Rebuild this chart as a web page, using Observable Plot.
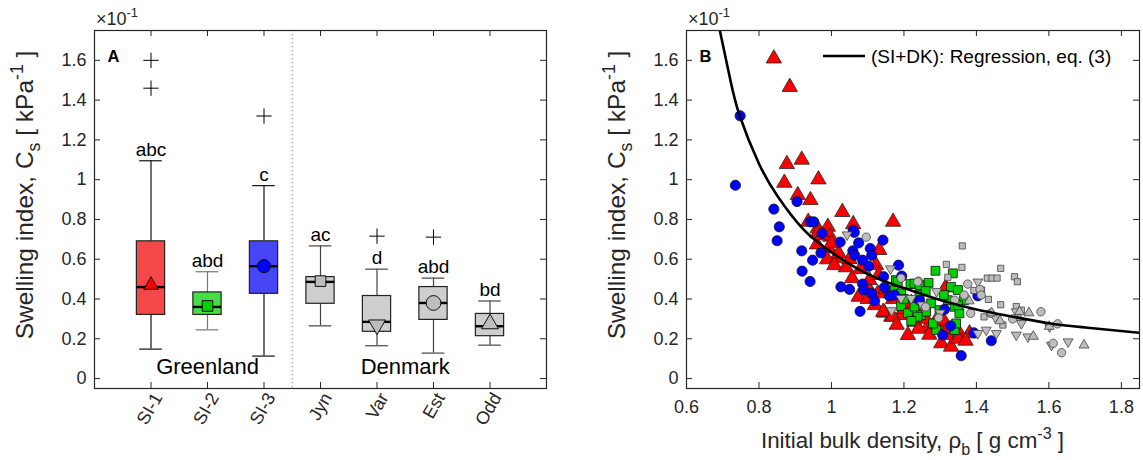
<!DOCTYPE html>
<html><head><meta charset="utf-8">
<script src="https://cdn.jsdelivr.net/npm/d3@7"></script>
<script src="https://cdn.jsdelivr.net/npm/@observablehq/plot@0.6"></script>
<style>
body{margin:0;background:#fff;}
#wrap{position:relative;width:1143px;height:460px;overflow:hidden;background:#fff;}
#wrap > div{position:absolute;top:0;}
</style></head><body>
<div id="wrap"><div id="left" style="left:0px"></div><div id="right" style="left:560px"></div></div>
<script>
// ---------------- DATA ----------------
const groups = ["SI-1","SI-2","SI-3","Jyn","Var","Est","Odd"];
const groupRegion = ["Greenland","Greenland","Greenland","Denmark","Denmark","Denmark","Denmark"];
const boxQ1      = [0.320,0.320,0.426,0.376,0.235,0.295,0.213];
const boxMedian  = [0.460,0.360,0.565,0.486,0.285,0.380,0.263];
const boxQ3      = [0.690,0.433,0.690,0.510,0.415,0.460,0.325];
const whiskerLow = [0.148,0.245,0.113,0.265,0.165,0.128,0.168];
const whiskerHigh= [1.095,0.537,0.970,0.667,0.550,0.505,0.390];
const meanValue  = [0.470,0.365,0.565,0.490,0.270,0.380,0.275];
const sigLetters = ["abc","abd","c","ac","d","abd","bd"];
const outlierGroup = ["SI-1","SI-1","SI-3","Var","Est"];
const outlierValue = [1.600,1.460,1.320,0.716,0.711];
const yTickValues = [0,0.2,0.4,0.6,0.8,1,1.2,1.4,1.6];
const xTickValuesB = [0.6,0.8,1,1.2,1.4,1.6,1.8];

// scatter: [initial bulk density, swelling index]
const si1Points = [[0.841,1.609],[0.885,1.466],[0.877,1.078],[0.918,1.100],[0.870,0.984],[0.964,1.001],[0.907,0.922],[0.942,0.897],[1.030,0.837],[1.060,0.776],[1.170,0.788],[0.962,0.755],[0.990,0.763],[0.936,0.788],[0.962,0.730],[0.997,0.713],[0.960,0.674],[0.993,0.654],[0.988,0.599],[1.017,0.604],[1.008,0.570],[1.040,0.559],[1.132,0.646],[1.123,0.570],[1.057,0.504],[1.100,0.461],[1.075,0.411],[1.120,0.369],[1.146,0.331],[1.165,0.311],[1.211,0.219],[1.229,0.285],[1.105,0.495],[1.128,0.428],[1.143,0.336],[1.266,0.260],[1.315,0.458],[1.192,0.319],[1.303,0.177],[1.330,0.160],[1.330,0.219],[1.353,0.227],[1.381,0.227],[1.284,0.277],[1.298,0.250],[1.169,0.311],[1.020,0.630],[1.050,0.600],[1.080,0.550],[1.150,0.450],[1.170,0.400],[1.200,0.350],[1.220,0.380],[1.250,0.330],[1.180,0.270],[1.240,0.250],[1.270,0.220],[1.320,0.250],[1.350,0.200],[1.100,0.400],[1.000,0.680],[0.975,0.720],[1.130,0.520],[1.260,0.300],[1.310,0.290],[1.370,0.190]];
const si2Points = [[1.178,0.495],[1.218,0.475],[1.229,0.478],[1.268,0.481],[1.287,0.542],[1.335,0.529],[1.192,0.364],[1.211,0.328],[1.229,0.361],[1.247,0.319],[1.261,0.336],[1.275,0.378],[1.289,0.244],[1.321,0.394],[1.340,0.361],[1.353,0.328],[1.366,0.394],[1.330,0.461],[1.349,0.445],[1.174,0.445],[1.192,0.428],[1.243,0.420],[1.280,0.277],[1.340,0.244],[1.183,0.486],[1.243,0.470],[1.298,0.344],[1.238,0.311],[1.344,0.277],[1.349,0.369],[1.200,0.400],[1.260,0.440],[1.310,0.420],[1.220,0.290]];
const si3Points = [[0.748,1.321],[0.735,0.972],[0.841,0.852],[0.905,0.890],[0.856,0.763],[0.942,0.788],[0.951,0.788],[1.060,0.746],[0.850,0.693],[0.918,0.642],[0.948,0.595],[0.919,0.540],[0.941,0.488],[0.974,0.730],[1.024,0.686],[1.063,0.735],[1.075,0.682],[1.059,0.642],[1.064,0.620],[1.086,0.595],[1.103,0.565],[1.107,0.654],[1.111,0.619],[1.142,0.696],[0.971,0.632],[1.026,0.461],[1.050,0.448],[1.086,0.475],[1.089,0.445],[1.111,0.428],[1.119,0.391],[1.146,0.458],[1.160,0.415],[1.144,0.512],[1.185,0.570],[1.194,0.515],[1.079,0.338],[1.174,0.420],[1.243,0.394],[1.312,0.348],[1.329,0.265],[1.307,0.219],[1.393,0.230],[1.441,0.190],[1.358,0.115],[1.404,0.416]];
const jynPoints = [[1.361,0.667],[1.317,0.574],[1.360,0.559],[1.321,0.509],[1.467,0.554],[1.430,0.505],[1.443,0.505],[1.457,0.505],[1.505,0.512],[1.513,0.487],[1.393,0.443],[1.414,0.445],[1.433,0.398],[1.467,0.371],[1.510,0.362],[1.421,0.310],[1.473,0.269],[1.515,0.308],[1.524,0.344]];
const varPoints = [[1.043,0.723],[1.163,0.552],[1.166,0.342],[1.404,0.486],[1.290,0.438],[1.192,0.403],[1.220,0.403],[1.510,0.336],[1.524,0.277],[1.404,0.227],[1.427,0.244],[1.455,0.227],[1.510,0.219],[1.542,0.210],[1.602,0.260],[1.607,0.168],[1.653,0.185],[1.452,0.308],[1.250,0.370],[1.300,0.330]];
const estPoints = [[1.096,0.711],[1.192,0.505],[1.240,0.490],[1.376,0.475],[1.410,0.448],[1.413,0.420],[1.366,0.420],[1.340,0.394],[1.296,0.305],[1.384,0.328],[1.439,0.328],[1.578,0.336],[1.624,0.275],[1.612,0.177],[1.635,0.130],[1.238,0.486],[1.260,0.360],[1.500,0.300]];
const oddPoints = [[1.519,0.336],[1.545,0.330],[1.601,0.262],[1.697,0.168],[1.557,0.212],[1.442,0.330],[1.465,0.290],[1.380,0.390]];
const regressionCurve = [[0.692,1.75],[0.72,1.51],[0.747,1.32],[0.80,1.08],[0.85,0.92],[0.92,0.755],[1.00,0.635],[1.10,0.525],[1.20,0.455],[1.30,0.395],[1.40,0.347],[1.50,0.311],[1.60,0.278],[1.70,0.257],[1.85,0.23]];
const legendLabel = "(SI+DK): Regression, eq. (3)";

// ---------------- STYLE ----------------
const font = "'Liberation Sans', Arial, Helvetica, sans-serif";
const ink = "#262626";
const boxFill = {"SI-1":"#f44848","SI-2":"#46e046","SI-3":"#4646f4","Jyn":"#cecece","Var":"#cecece","Est":"#cecece","Odd":"#cecece"};
const whiskerStroke = {"SI-1":"#111","SI-2":"#777","SI-3":"#111","Jyn":"#444","Var":"#444","Est":"#444","Odd":"#444"};
const markFill = {"SI-1":"#ff0000","SI-2":"#00d000","SI-3":"#0000ff","Jyn":"#bdbdbd","Var":"#bdbdbd","Est":"#bdbdbd","Odd":"#bdbdbd"};
const meanSymbol = {"SI-1":["triangle",5.4,0],"SI-2":["square",6.0,0],"SI-3":["circle",6.6,0],"Jyn":["square",6.0,0],"Var":["triangle",6.3,180],"Est":["circle",7.4,0],"Odd":["triangle",6.3,0]};
const yDomain = [-0.05, 1.75];
const fmt = d => String(+d.toFixed(2));

function richText(parent, parts, {x, y, size, anchor = "start", rotate = 0, weight = "normal"}) {
  const t = parent.append("text")
    .attr("transform", `translate(${x},${y}) rotate(${rotate})`)
    .attr("text-anchor", anchor).attr("font-size", size).attr("font-family", font)
    .attr("fill", ink).attr("font-weight", weight);
  let shift = 0;
  for (const p of parts) {
    const sp = t.append("tspan").text(p.t);
    const target = p.sub ? size * 0.3 : p.sup ? -size * 0.42 : 0;
    if (target - shift !== 0) sp.attr("dy", target - shift);
    shift = target;
    if (p.sub || p.sup) sp.attr("font-size", size * 0.72);
  }
  return t;
}

// ---------------- PANEL A ----------------
const L = {width: 560, height: 460, ml: 94, mr: 14, mt: 30, mb: 72};
const LfW = L.width - L.ml - L.mr, LfH = L.height - L.mt - L.mb;
const rows = groups.map((g, i) => ({g, pos: i + 1, q1: boxQ1[i], med: boxMedian[i], q3: boxQ3[i], lo: whiskerLow[i], hi: whiskerHigh[i], mean: meanValue[i], letters: sigLetters[i], region: groupRegion[i]}));
const posOf = g => groups.indexOf(g) + 1;
const outliers = outlierGroup.map((g, i) => ({pos: posOf(g), v: outlierValue[i]}));
const regionRows = Array.from(new Set(groupRegion), r => ({r, pos: d3.mean(rows.filter(d => d.region === r), d => d.pos)}));
const dividerPos = d3.max(rows.filter(d => d.region === groupRegion[0]), d => d.pos) + 0.5;
const catTicks = rows.map(d => d.pos);

const meanMarks = rows.map(d => {
  const [sym, r, rot] = meanSymbol[d.g];
  return Plot.dot([d], {x: "pos", y: "mean", symbol: sym, r, rotate: rot, fill: markFill[d.g], stroke: "#111", strokeWidth: 1});
});

const left = Plot.plot({
  width: L.width, height: L.height,
  marginLeft: L.ml, marginRight: L.mr, marginTop: L.mt, marginBottom: L.mb,
  style: {fontFamily: font, color: ink, background: "white", overflow: "visible"},
  x: {domain: [0, groups.length + 1], axis: null},
  y: {domain: yDomain, axis: null},
  marks: [
    Plot.ruleX([dividerPos], {stroke: "#777", strokeDasharray: "1.2,2.8", strokeWidth: 1}),
    // whiskers
    Plot.ruleX(rows, {x: "pos", y1: "q3", y2: "hi", stroke: d => whiskerStroke[d.g], strokeWidth: 1.2}),
    Plot.ruleX(rows, {x: "pos", y1: "lo", y2: "q1", stroke: d => whiskerStroke[d.g], strokeWidth: 1.2}),
    Plot.ruleY(rows, {y: "hi", x1: d => d.pos - 0.2, x2: d => d.pos + 0.2, stroke: d => whiskerStroke[d.g], strokeWidth: 1.2}),
    Plot.ruleY(rows, {y: "lo", x1: d => d.pos - 0.2, x2: d => d.pos + 0.2, stroke: d => whiskerStroke[d.g], strokeWidth: 1.2}),
    // boxes
    Plot.rect(rows, {x1: d => d.pos - 0.25, x2: d => d.pos + 0.25, y1: "q1", y2: "q3", fill: d => boxFill[d.g], stroke: "#222", strokeWidth: 1.2}),
    Plot.ruleY(rows, {y: "med", x1: d => d.pos - 0.25, x2: d => d.pos + 0.25, stroke: "#000", strokeWidth: 2.4}),
    ...meanMarks,
    // outliers
    Plot.dot(outliers, {x: "pos", y: "v", symbol: "plus", r: 5, stroke: "#000", strokeWidth: 1}),
    // significance letters
    Plot.text(rows, {x: "pos", y: "hi", text: "letters", dy: -11, fontSize: 19, fill: "#000"}),
    // region labels
    Plot.text(regionRows, {x: "pos", text: "r", frameAnchor: "bottom", dy: -15, fontSize: 22, fill: "#000"}),
    Plot.text(["A"], {frameAnchor: "top-left", dx: 13, dy: 20, fontWeight: "bold", fontSize: 16.5, fill: "#000"}),
    // inward ticks on all sides
    Plot.tickY(yTickValues, {y: d => d, insetRight: LfW - 6, stroke: ink}),
    Plot.tickY(yTickValues, {y: d => d, insetLeft: LfW - 6, stroke: ink}),
    Plot.tickX(catTicks, {x: d => d, insetTop: LfH - 6, stroke: ink}),
    Plot.tickX(catTicks, {x: d => d, insetBottom: LfH - 6, stroke: ink}),
    Plot.frame({stroke: ink, strokeWidth: 1.2}),
    Plot.axisY({ticks: yTickValues, tickFormat: fmt, tickSize: 0, tickPadding: 8, fontSize: 18, label: null}),
    Plot.axisX({ticks: catTicks, tickFormat: d => groups[d - 1], tickSize: 0, tickPadding: 6, dx: 7, tickRotate: -60, fontSize: 18, label: null})
  ]
});
document.getElementById("left").appendChild(left);

// ---------------- PANEL B ----------------
const R = {width: 583, height: 460, ml: 126, mr: 4, mt: 30, mb: 72};
const RfW = R.width - R.ml - R.mr, RfH = R.height - R.mt - R.mb;
const scatterSpec = [
  [si1Points, "triangle", 5.7, 0, markFill["SI-1"], "#222"],
  [si2Points, "square", 5.0, 0, markFill["SI-2"], "#111"],
  [si3Points, "circle", 5.1, 0, markFill["SI-3"], "#112"],
  [jynPoints, "square", 3.5, 0, markFill["Jyn"], "#444"],
  [varPoints, "triangle", 3.7, 180, markFill["Var"], "#444"],
  [estPoints, "circle", 4.2, 0, markFill["Est"], "#444"],
  [oddPoints, "triangle", 3.7, 0, markFill["Odd"], "#444"]
];
const right = Plot.plot({
  width: R.width, height: R.height,
  marginLeft: R.ml, marginRight: R.mr, marginTop: R.mt, marginBottom: R.mb,
  style: {fontFamily: font, color: ink, background: "white", overflow: "visible"},
  x: {domain: [0.6, 1.85], axis: null},
  y: {domain: yDomain, axis: null},
  marks: [
    ...scatterSpec.map(([pts, sym, r, rot, fill, stroke]) =>
      Plot.dot(pts, {x: d => d[0], y: d => d[1], symbol: sym, r, rotate: rot, fill, stroke, strokeWidth: 0.8})),
    Plot.line(regressionCurve, {x: d => d[0], y: d => d[1], curve: "natural", stroke: "#000", strokeWidth: 2.6, clip: true}),
    Plot.text(["B"], {frameAnchor: "top-left", dx: 13, dy: 20, fontWeight: "bold", fontSize: 16.5, fill: "#000"}),
    Plot.tickY(yTickValues, {y: d => d, insetRight: RfW - 6, stroke: ink}),
    Plot.tickY(yTickValues, {y: d => d, insetLeft: RfW - 6, stroke: ink}),
    Plot.tickX(xTickValuesB, {x: d => d, insetTop: RfH - 6, stroke: ink}),
    Plot.tickX(xTickValuesB, {x: d => d, insetBottom: RfH - 6, stroke: ink}),
    Plot.frame({stroke: ink, strokeWidth: 1.2}),
    Plot.axisY({ticks: yTickValues, tickFormat: fmt, tickSize: 0, tickPadding: 8, fontSize: 18, label: null}),
    Plot.axisX({ticks: xTickValuesB, tickFormat: fmt, tickSize: 0, tickPadding: 12, fontSize: 18, label: null})
  ]
});
document.getElementById("right").appendChild(right);

// ---------------- LABELS ----------------
const yLabelParts = [{t: "Swelling index, C"}, {t: "s", sub: true}, {t: " [ kPa"}, {t: "-1", sup: true}, {t: " ]"}];
const svgL = d3.select(left), svgR = d3.select(right);
richText(svgL, yLabelParts, {x: 33, y: 195, size: 24.5, anchor: "middle", rotate: -90});
richText(svgR, yLabelParts, {x: 65, y: 195, size: 24.5, anchor: "middle", rotate: -90});
richText(svgL, [{t: "×10"}, {t: "-1", sup: true}], {x: 96, y: 25, size: 18});
richText(svgR, [{t: "×10"}, {t: "-1", sup: true}], {x: R.ml + 2, y: 25, size: 18});
richText(svgR, [{t: "Initial bulk density, ρ"}, {t: "b", sub: true}, {t: " [ g cm"}, {t: "-3", sup: true}, {t: " ]"}], {x: R.ml + RfW / 2, y: 448, size: 22.4, anchor: "middle"});
// legend
svgR.append("line").attr("x1", 263).attr("x2", 305).attr("y1", 56).attr("y2", 56).attr("stroke", "#000").attr("stroke-width", 2.6);
svgR.append("text").attr("x", 311).attr("y", 63).attr("text-anchor", "start").attr("font-size", 19).attr("font-family", font).attr("fill", "#000").text(legendLabel);
</script>
</body></html>
